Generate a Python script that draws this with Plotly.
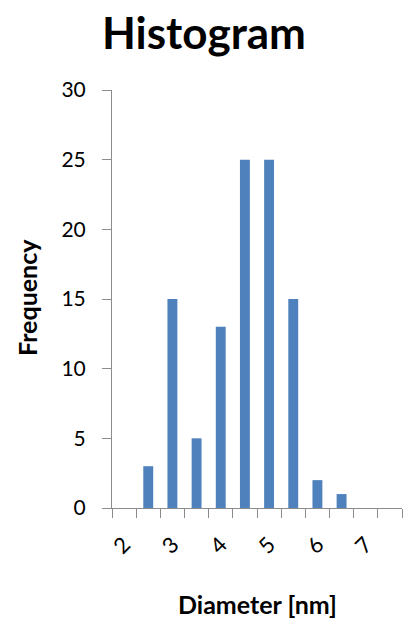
import plotly.graph_objects as go

# Data
diameters = [2.0, 2.5, 3.0, 3.5, 4.0, 4.5, 5.0, 5.5, 6.0, 6.5, 7.0, 7.5]
frequency = [0, 3, 15, 5, 13, 25, 25, 15, 2, 1, 0, 0]
x_tick_vals = [2, 3, 4, 5, 6, 7]
x_tick_text = ["2", "3", "4", "5", "6", "7"]
y_tick_vals = [0, 5, 10, 15, 20, 25, 30]

FONT = "Lato, 'Open Sans', sans-serif"
AXIS_COLOR = "#8C8C8C"

fig = go.Figure()
fig.add_trace(go.Bar(
    x=diameters,
    y=frequency,
    width=0.205,
    marker=dict(color="#4F81BD", line=dict(width=0)),
    hoverinfo="x+y",
))

fig.update_layout(
    width=403,
    height=619,
    paper_bgcolor="white",
    plot_bgcolor="white",
    margin=dict(l=112, r=1, t=90, b=111, autoexpand=False),
    showlegend=False,
    font=dict(family=FONT, color="#000000"),
    title=dict(
        text="<b>Histogram</b>",
        font=dict(family=FONT, size=44, color="#000000"),
        x=204 / 403, xanchor="center", xref="container",
        y=1 - 34 / 619, yanchor="middle", yref="container",
    ),
    xaxis=dict(
        range=[1.75, 7.75],
        tickmode="array",
        tickvals=x_tick_vals,
        ticktext=x_tick_text,
        ticks="outside",
        ticklen=14,
        tickcolor="rgba(0,0,0,0)",
        tickangle=-45,
        tickfont=dict(family=FONT, size=22, color="#000000"),
        showgrid=False,
        zeroline=False,
        showline=True,
        linecolor=AXIS_COLOR,
        linewidth=1,
        automargin=False,
        minor=dict(ticks="outside", tick0=1.75, dtick=0.5, ticklen=9,
                   tickcolor=AXIS_COLOR, tickwidth=1, showgrid=False),
        fixedrange=True,
    ),
    yaxis=dict(
        range=[0, 30],
        tickmode="array",
        tickvals=y_tick_vals,
        ticks="outside",
        ticklen=9,
        tickcolor=AXIS_COLOR,
        tickwidth=1,
        ticklabelstandoff=12,
        tickfont=dict(family=FONT, size=21, color="#000000"),
        showgrid=False,
        zeroline=False,
        showline=True,
        linecolor=AXIS_COLOR,
        linewidth=1,
        automargin=False,
        fixedrange=True,
    ),
)

plot_w = 403 - 112 - 1
plot_h = 619 - 90 - 111
fig.add_annotation(text="<b>Frequency</b>", textangle=-90,
                   x=(27 - 112) / plot_w, y=(619 - 111 - 298) / plot_h,
                   xref="paper", yref="paper", showarrow=False,
                   xanchor="center", yanchor="middle",
                   font=dict(family=FONT, size=25, color="#000000"))
fig.add_annotation(text="<b>Diameter [nm]</b>",
                   x=(257 - 112) / plot_w, y=(619 - 111 - 604) / plot_h,
                   xref="paper", yref="paper", showarrow=False,
                   xanchor="center", yanchor="middle",
                   font=dict(family=FONT, size=25, color="#000000"))

fig.write_html("out.html",
               config={"displayModeBar": False},
               post_script="document.body.style.margin='0';document.body.style.overflow='hidden';")
